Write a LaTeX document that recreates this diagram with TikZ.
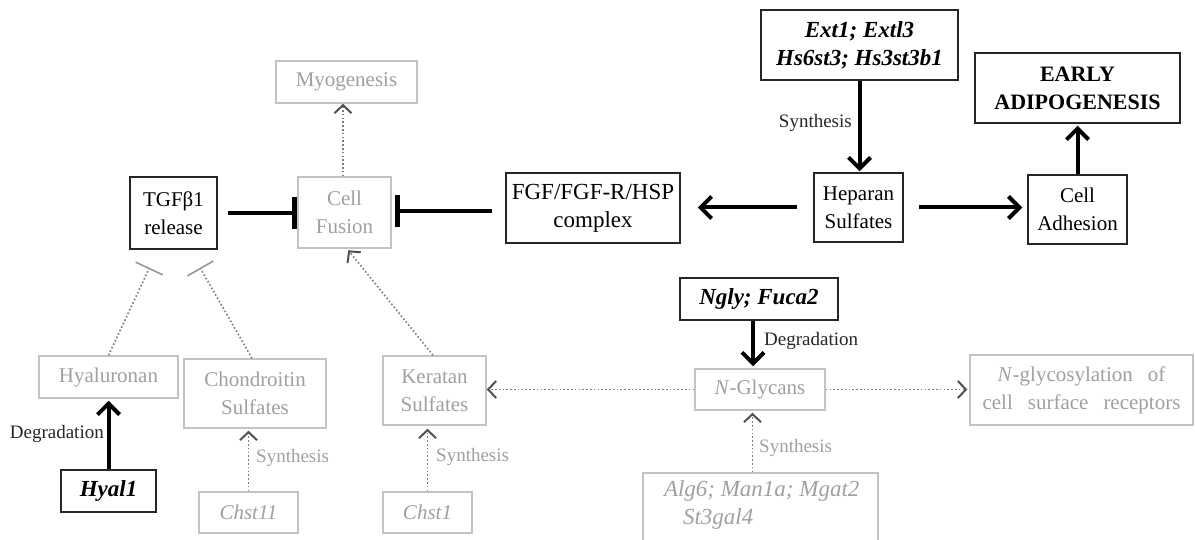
\documentclass[tikz,border=0pt]{standalone}
\usepackage{fontspec}
\setmainfont{Liberation Serif}
\usetikzlibrary{arrows.meta,calc}
\definecolor{lgtext}{RGB}{160,160,160}
\definecolor{lgbox}{RGB}{195,195,195}
\definecolor{dotc}{RGB}{125,125,125}
\definecolor{headc}{RGB}{80,80,80}
\tikzset{
  bbox/.style={draw=black!85, line width=1.5pt, fill=white, align=center, inner sep=0pt, font=\fontsize{21}{28}\selectfont},
  gbox/.style={draw=lgbox, line width=1.5pt, text=lgtext, align=center, inner sep=0pt, font=\fontsize{21}{28}\selectfont},
  bifont/.style={font=\fontsize{23}{28}\selectfont\bfseries\itshape},
  thickarr/.style={line width=4pt, -{Straight Barb[length=11pt,width=22pt]}},
  inhib/.style={line width=4pt, -{Bar[width=32pt,line width=5pt]}},
  dotarr/.style={draw=dotc, line width=1.6pt, dash pattern=on 1.6pt off 2.2pt, -{Straight Barb[length=8pt,width=17pt,line width=2pt,color=headc]}},
  dotinh/.style={draw=dotc, line width=1.6pt, dash pattern=on 1.6pt off 2.2pt, -{Bar[width=30pt,line width=1.6pt,color=dotc!80]}},
  lab/.style={inner sep=0pt, text=black!85, font=\fontsize{19}{22}\selectfont},
  glab/.style={inner sep=0pt, text=lgtext, font=\fontsize{19}{22}\selectfont}
}
\begin{document}
\begin{tikzpicture}[x=1pt,y=-1pt]
\useasboundingbox (0,0) rectangle (1195,540);
\clip (0,0) rectangle (1195,540);
\fill[white] (0,0) rectangle (1195,540);
% nodes
\node[gbox, minimum width=141pt, minimum height=42pt] (myo) at (346.5,82) {Myogenesis};
\node[gbox, minimum width=93pt, minimum height=71pt] (fus) at (344.5,212.5) {Cell\\Fusion};
\node[bbox, minimum width=87pt, minimum height=72pt] (tgf) at (173.5,213) {TGFβ1\\release};
\node[bbox, font=\fontsize{23}{28}\selectfont, minimum width=174pt, minimum height=70pt] (fgf) at (593,208) {FGF/FGF-R/HSP\\complex};
\node[bbox, minimum width=89pt, minimum height=69pt] (hep) at (858.5,207.5) {Heparan\\Sulfates};
\node[bbox, bifont, minimum width=197pt, minimum height=70pt] (ext) at (859.5,45) {Ext1; Extl3\\Hs6st3; Hs3st3b1};
\node[bbox, font=\fontsize{22}{28}\selectfont\bfseries, minimum width=205pt, minimum height=70pt] (early) at (1077.5,88) {EARLY\\ADIPOGENESIS};
\node[bbox, minimum width=99pt, minimum height=69pt] (adh) at (1077.5,209.5) {Cell\\Adhesion};
\node[bbox, bifont, minimum width=158pt, minimum height=42pt] (ngly) at (759,299) {Ngly; Fuca2};
\node[gbox, minimum width=130pt, minimum height=41pt] (nglyc) at (760,389.5) {\textit{N}-Glycans};
\node[gbox, minimum width=223pt, minimum height=70pt] (nrec) at (1081.5,390) {\spaceskip=15pt\textit{N}-glycosylation of\\\spaceskip=15pt cell surface receptors};
\node[gbox, minimum width=235pt, minimum height=75pt] (alg) at (760.5,510.5)
  {\parbox[c][60pt][t]{235pt}{\raggedright\fontsize{23}{28}\selectfont\itshape\hspace*{21pt}Alg6; Man1a; Mgat2\\\hspace*{40pt}St3gal4}};
\node[gbox, minimum width=103pt, minimum height=69pt] (ker) at (434.5,390.5) {Keratan\\Sulfates};
\node[gbox, minimum width=89pt, minimum height=41pt] (chst1) at (427.5,512.5) {\textit{Chst1}};
\node[gbox, minimum width=142pt, minimum height=69pt] (chond) at (255,393.5) {Chondroitin\\Sulfates};
\node[gbox, minimum width=99pt, minimum height=41pt] (chst11) at (248.5,512.5) {\textit{Chst11}};
\node[gbox, minimum width=139pt, minimum height=42pt] (hyal) at (108.5,377) {Hyaluronan};
\node[bbox, bifont, minimum width=95pt, minimum height=42pt] (hyal1) at (108.5,491) {Hyal1};
% labels
\node[lab, anchor=east] (syn1) at (852,123) {Synthesis};
\node[lab, anchor=west] (deg1) at (764,341) {Degradation};
\node[lab, anchor=east] (deg2) at (104,434) {Degradation};
\node[glab, anchor=west] (syn2) at (256,458) {Synthesis};
\node[glab, anchor=west] (syn3) at (436,457) {Synthesis};
\node[glab, anchor=west] (syn4) at (759,448) {Synthesis};
% connectors
\draw[inhib, shorten <=10pt] (tgf.east) -- (tgf.east -| fus.west);
\draw[inhib, shorten <=13pt, shorten >=3pt] ([yshift=-3pt]fgf.west) -- ([yshift=-3pt]fgf.west -| fus.east);
\draw[thickarr, shorten <=16pt, shorten >=17pt] (hep.west) -- (hep.west -| fgf.east);
\draw[thickarr, shorten <=15pt, shorten >=5pt] (hep.east) -- (hep.east -| adh.west);
\draw[thickarr, shorten >=1pt] (ext.south) -- (ext.south |- hep.north);
\draw[thickarr, shorten >=2pt] (adh.north) -- (early.south);
\draw[thickarr, shorten >=2pt] ([xshift=-6pt]ngly.south) -- ([xshift=-6pt]ngly.south |- nglyc.north);
\draw[thickarr, shorten >=2pt] (hyal1.north) -- (hyal.south);
\draw[dotarr, shorten >=2pt] (chst11.north) -- (chst11.north |- chond.south);
\draw[dotarr, shorten >=3pt] (chst1.north) -- (chst1.north |- ker.south);
\draw[dotarr, shorten >=2pt] ([xshift=-8pt]alg.north) -- ([xshift=-8pt]alg.north |- nglyc.south);
\draw[dotarr] (nglyc.west) -- (nglyc.west -| ker.east);
\draw[dotarr, shorten >=2pt] (nglyc.east) -- (nglyc.east -| nrec.west);
\draw[dotarr] ([xshift=-1.5pt]fus.north) -- ([xshift=-1.5pt]fus.north |- myo.south);
\draw[dotarr, shorten >=2pt] ([xshift=-1.5pt]ker.north) -- ([xshift=2.5pt]fus.south);
\draw[dotinh] (hyal.north) -- ([xshift=-24pt,yshift=-18pt]tgf.south);
\draw[dotinh] ([xshift=-3pt]chond.north) -- ([xshift=26.5pt,yshift=-18pt]tgf.south);
\end{tikzpicture}
\end{document}
